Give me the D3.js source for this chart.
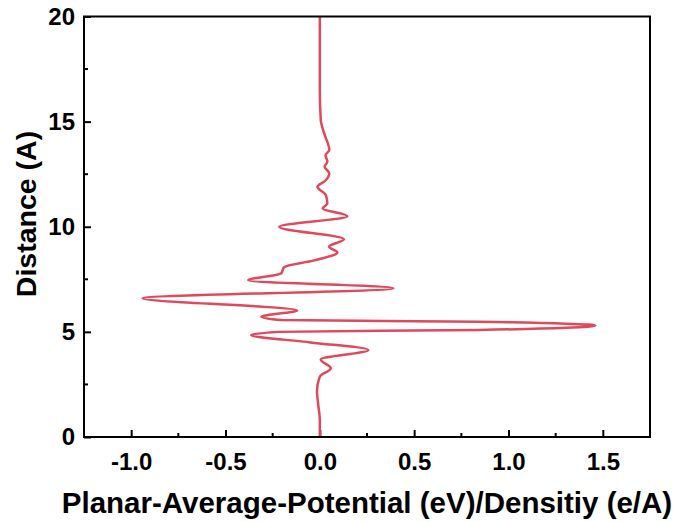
<!DOCTYPE html>
<html>
<head>
<meta charset="utf-8">
<script src="https://cdn.jsdelivr.net/npm/d3@7"></script>
<style>
  body { margin: 0; background: #fff; }
  text { font-family: "Liberation Sans", Arial, sans-serif; font-weight: bold; fill: #000; }
</style>
</head>
<body>
<svg id="chart" width="676" height="522"></svg>
<script>
// distance along z (A) and the planar-average value
var distance = [0.0, 0.8, 1.5, 2.2, 2.87, 3.27, 3.69, 4.14, 4.5, 4.85,
                5.0, 5.09, 5.3, 5.48, 5.56, 5.72, 6.02, 6.6, 7.08, 7.45,
                7.78, 8.07, 8.4, 8.78, 9.05, 9.4, 10.0, 10.5, 10.87, 11.1,
                11.5, 11.9, 12.2, 12.55, 12.85, 13.1, 13.4, 13.65, 14.44, 15.07,
                16.5, 20.0];
var potential = [0.0, 0.0, -0.008, -0.015, 0.0, 0.058, 0.005, 0.257, -0.05, -0.364,
                 -0.22, 0.84, 1.46, 0.84, -0.2, -0.31, -0.12, -0.94, 0.39, -0.38,
                 -0.205, -0.19, -0.03, 0.093, 0.049, 0.128, -0.215, 0.146, 0.015, 0.04,
                 0.032, -0.013, 0.03, 0.05, 0.025, 0.04, 0.03, 0.05, 0.023, 0.005,
                 0.0, 0.0];
var xTicks = [-1.0, -0.5, 0.0, 0.5, 1.0, 1.5];
var yTicks = [0, 5, 10, 15, 20];

var svg = d3.select("#chart");
var plotLeft = 84, plotRight = 650, plotTop = 16.5, plotBottom = 437;

var x = d3.scaleLinear().domain([-1.25, 1.75]).range([plotLeft, plotRight]);
var y = d3.scaleLinear().domain([0, 20]).range([plotBottom, plotTop]);

// minor ticks halfway between major ones
var xMinor = d3.range(-1.25, 1.76, 0.25).filter(function(v){
  return xTicks.every(function(t){ return Math.abs(t - v) > 1e-6; });
});
var yMinor = d3.range(2.5, 20, 5);

var xAxis = svg.append("g").attr("transform", "translate(0," + plotBottom + ")")
  .call(d3.axisBottom(x).tickValues(xTicks).tickSize(-7).tickPadding(16)
    .tickFormat(function(d){ return d3.format(".1f")(d).replace("\u2212", "-"); }));
xAxis.select(".domain").remove();
xAxis.selectAll("text").style("font-size", "24px");
xAxis.selectAll("line").attr("stroke-width", 2);

var yAxis = svg.append("g").attr("transform", "translate(" + plotLeft + ",0)")
  .call(d3.axisLeft(y).tickValues(yTicks).tickSize(-7).tickPadding(9));
yAxis.select(".domain").remove();
yAxis.selectAll("text").style("font-size", "24px");
yAxis.selectAll("line").attr("stroke-width", 2);

svg.append("g").selectAll("line").data(xMinor).enter().append("line")
  .attr("x1", function(d){ return x(d); }).attr("x2", function(d){ return x(d); })
  .attr("y1", plotBottom).attr("y2", plotBottom - 4)
  .attr("stroke", "#000").attr("stroke-width", 2);
svg.append("g").selectAll("line").data(yMinor).enter().append("line")
  .attr("y1", function(d){ return y(d); }).attr("y2", function(d){ return y(d); })
  .attr("x1", plotLeft).attr("x2", plotLeft + 4)
  .attr("stroke", "#000").attr("stroke-width", 2);

var pts = distance.map(function(d, i){ return [potential[i], d]; });
var line = d3.line()
  .x(function(d){ return x(d[0]); })
  .y(function(d){ return y(d[1]); })
  .curve(d3.curveMonotoneY);

svg.append("path").datum(pts)
  .attr("d", line)
  .attr("fill", "none")
  .attr("stroke", "#e0485b")
  .attr("stroke-width", 2.5)
  .attr("stroke-linejoin", "round");

// frame
svg.append("rect")
  .attr("x", plotLeft).attr("y", plotTop)
  .attr("width", plotRight - plotLeft).attr("height", plotBottom - plotTop)
  .attr("fill", "none").attr("stroke", "#000").attr("stroke-width", 2);

svg.append("text")
  .attr("x", (plotLeft + plotRight) / 2).attr("y", 513)
  .attr("text-anchor", "middle").style("font-size", "29.5px")
  .text("Planar-Average-Potential (eV)/Densitiy (e/A)");

svg.append("text")
  .attr("transform", "translate(36,214) rotate(-90)")
  .attr("text-anchor", "middle").style("font-size", "28.5px")
  .text("Distance (A)");
</script>
</body>
</html>
